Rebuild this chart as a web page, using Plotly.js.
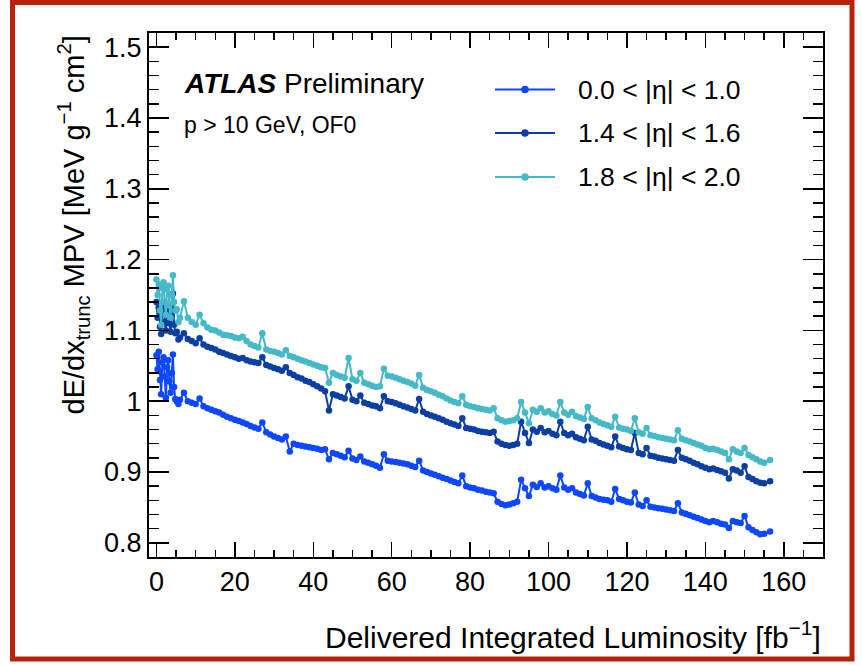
<!DOCTYPE html>
<html>
<head>
<meta charset="utf-8">
<script src="https://cdn.plot.ly/plotly-3.0.1.min.js"></script>
<style>
  html, body { margin: 0; padding: 0; background: #ffffff; }
  #chart { width: 862px; height: 666px; }
</style>
</head>
<body>
<div id="chart"></div>
<script>
// Delivered integrated luminosity [fb^-1] at each measurement
const lumi = [
  0, 0.3, 0.6, 0.9, 1.2, 1.5, 1.8, 2.1, 2.4, 2.7, 3.0, 3.3, 3.6, 3.9, 4.2, 4.5, 4.8, 5.2, 5.6, 6,
  7, 8, 9, 10, 11, 12, 13, 14, 15, 16,
  17, 18, 19, 20, 21, 22, 23, 24, 25, 26,
  27, 28, 29, 30, 31, 32, 33, 34, 35, 36,
  37, 38, 39, 40, 41, 42, 43, 44, 45, 46,
  47, 48, 49, 50, 51, 52, 53, 54, 55, 56,
  57, 58, 59, 60, 61, 62, 63, 64, 65, 66,
  67, 68, 69, 70, 71, 72, 73, 74, 75, 76,
  77, 78, 79, 80, 81, 82, 83, 84, 85, 86,
  87, 88, 89, 90, 91, 92, 93, 94, 95, 96,
  97, 98, 99, 100, 101, 102, 103, 104, 105, 106,
  107, 108, 109, 110, 111, 112, 113, 114, 115, 116,
  117, 118, 119, 120, 121, 122, 123, 124, 125, 126,
  127, 128, 129, 130, 131, 132, 133, 134, 135, 136,
  137, 138, 139, 140, 141, 142, 143, 144, 145, 146,
  147, 148, 149, 150, 151, 152, 153, 154, 155, 156.5
];

// dE/dx_trunc MPV, 0.0 < |eta| < 1.0
const mpvCentral = [
  1.065, 1.045, 1.070, 1.030, 1.010, 1.055, 1.062, 1.035, 1.005, 1.048, 1.058, 1.028, 1.012, 1.040, 1.066, 1.020, 1.003, 1.000, 0.996, 1.002,
  1.012, 1.000, 0.998, 0.996, 1.004, 0.993, 0.990, 0.988, 0.986, 0.984,
  0.981, 0.978, 0.976, 0.974, 0.972, 0.970, 0.968, 0.965, 0.963, 0.961,
  0.970, 0.956, 0.953, 0.950, 0.948, 0.946, 0.950, 0.929, 0.940, 0.938,
  0.937, 0.936, 0.935, 0.934, 0.933, 0.931, 0.932, 0.918, 0.927, 0.925,
  0.923, 0.921, 0.930, 0.919, 0.917, 0.922, 0.915, 0.913, 0.911, 0.909,
  0.906, 0.925, 0.916, 0.915, 0.914, 0.913, 0.912, 0.911, 0.909, 0.907,
  0.916, 0.902, 0.900, 0.898, 0.896, 0.894, 0.892, 0.890, 0.888, 0.886,
  0.884, 0.895, 0.880, 0.878, 0.877, 0.875, 0.874, 0.872, 0.871, 0.870,
  0.858, 0.855, 0.853, 0.854, 0.856, 0.858, 0.889, 0.877, 0.866, 0.882,
  0.879, 0.884, 0.878, 0.880, 0.877, 0.875, 0.895, 0.878, 0.875, 0.877,
  0.871, 0.869, 0.867, 0.884, 0.866, 0.864, 0.862, 0.861, 0.860, 0.858,
  0.876, 0.862, 0.860, 0.858, 0.857, 0.871, 0.854, 0.852, 0.860, 0.851,
  0.850, 0.849, 0.848, 0.847, 0.846, 0.845, 0.856, 0.843, 0.841, 0.839,
  0.837, 0.835, 0.833, 0.831, 0.829, 0.831, 0.829, 0.827, 0.826, 0.821,
  0.831, 0.829, 0.828, 0.838, 0.822, 0.818, 0.815, 0.812, 0.813, 0.816
];

// dE/dx_trunc MPV, 1.4 < |eta| < 1.6
const mpvTransition = [
  1.140, 1.118, 1.132, 1.105, 1.095, 1.128, 1.138, 1.112, 1.100, 1.126, 1.134, 1.110, 1.098, 1.120, 1.152, 1.108, 1.096, 1.098, 1.087, 1.090,
  1.096, 1.088, 1.085, 1.082, 1.089, 1.080, 1.077, 1.075, 1.073, 1.070,
  1.068, 1.066, 1.064, 1.062, 1.060, 1.061, 1.058, 1.056, 1.055, 1.054,
  1.062, 1.051, 1.049, 1.047, 1.045, 1.043, 1.048, 1.040, 1.037, 1.034,
  1.032, 1.029, 1.027, 1.024, 1.021, 1.018, 1.014, 0.987, 1.010, 1.008,
  1.006, 1.004, 1.021, 1.002, 1.000, 1.008, 0.998, 0.996, 0.994, 0.993,
  0.990, 1.007, 1.000, 0.999, 0.997, 0.995, 0.993, 0.991, 0.989, 0.987,
  1.003, 0.985, 0.982, 0.980, 0.978, 0.976, 0.974, 0.971, 0.969, 0.967,
  0.965, 0.976, 0.962, 0.961, 0.960, 0.958, 0.957, 0.956, 0.955, 0.957,
  0.943, 0.940, 0.938, 0.937, 0.938, 0.940, 0.971, 0.955, 0.941, 0.960,
  0.957, 0.962, 0.956, 0.958, 0.954, 0.952, 0.971, 0.955, 0.952, 0.954,
  0.949, 0.947, 0.945, 0.964, 0.946, 0.944, 0.941, 0.939, 0.937, 0.935,
  0.950, 0.936, 0.934, 0.932, 0.931, 0.955, 0.927, 0.925, 0.934, 0.923,
  0.922, 0.920, 0.919, 0.918, 0.917, 0.916, 0.931, 0.920, 0.918, 0.916,
  0.913, 0.911, 0.908, 0.906, 0.904, 0.905, 0.903, 0.901, 0.899, 0.891,
  0.904, 0.902, 0.899, 0.908, 0.893, 0.890, 0.887, 0.885, 0.884, 0.887
];

// dE/dx_trunc MPV, 1.8 < |eta| < 2.0
const mpvForward = [
  1.172, 1.150, 1.165, 1.128, 1.108, 1.160, 1.168, 1.140, 1.122, 1.158, 1.163, 1.135, 1.118, 1.150, 1.178, 1.140, 1.128, 1.130, 1.112, 1.118,
  1.141, 1.118, 1.112, 1.108, 1.122, 1.110, 1.104, 1.101, 1.100, 1.097,
  1.094, 1.093, 1.092, 1.090, 1.089, 1.091, 1.085, 1.080, 1.078, 1.076,
  1.096, 1.073, 1.071, 1.070, 1.068, 1.066, 1.072, 1.064, 1.062, 1.060,
  1.058, 1.056, 1.054, 1.052, 1.050, 1.048, 1.047, 1.026, 1.040, 1.037,
  1.035, 1.033, 1.061, 1.031, 1.029, 1.040, 1.026, 1.024, 1.022, 1.020,
  1.021, 1.046, 1.036, 1.035, 1.033, 1.031, 1.029, 1.027, 1.025, 1.022,
  1.037, 1.019, 1.016, 1.014, 1.012, 1.009, 1.007, 1.004, 1.001, 0.999,
  0.997, 1.007, 0.995, 0.993, 0.992, 0.990, 0.989, 0.988, 0.987, 0.990,
  0.976, 0.973, 0.971, 0.972, 0.973, 0.976, 0.999, 0.984, 0.969, 0.988,
  0.985, 0.990, 0.984, 0.986, 0.982, 0.980, 0.999, 0.984, 0.981, 0.985,
  0.979, 0.977, 0.975, 0.992, 0.976, 0.973, 0.970, 0.968, 0.966, 0.964,
  0.978, 0.963, 0.961, 0.960, 0.958, 0.976, 0.956, 0.954, 0.962, 0.952,
  0.951, 0.949, 0.948, 0.947, 0.946, 0.945, 0.959, 0.947, 0.945, 0.943,
  0.941, 0.939, 0.937, 0.934, 0.932, 0.933, 0.931, 0.929, 0.927, 0.918,
  0.932, 0.929, 0.927, 0.934, 0.924, 0.921, 0.918, 0.915, 0.913, 0.917
];

const seriesNames = ['0.0 < |η| < 1.0', '1.4 < |η| < 1.6', '1.8 < |η| < 2.0'];
const seriesColors = ['#0d47ff', '#0b3fa3', '#45b9c7'];
const seriesValues = [mpvCentral, mpvTransition, mpvForward];

const FONT = 'Liberation Sans, Arial, Helvetica, sans-serif';

const traces = seriesValues.map((vals, i) => ({
  type: 'scatter',
  mode: 'lines+markers',
  name: seriesNames[i],
  x: lumi,
  y: vals,
  line: { color: seriesColors[i], width: 2 },
  marker: { color: seriesColors[i], size: 6.5, symbol: 'circle' },
  showlegend: false
}));

// Plot-area pixel geometry (used to place decorations in paper units)
const L = 149, R = 823, T = 33, B = 557;
const px = v => (v - L) / (R - L);
const py = v => (B - v) / (B - T);

// Hand-drawn legend: a line with a marker, followed by the label
const legendRows = [89.5, 133, 177];
const legendShapes = [];
const legendNotes = [];
legendRows.forEach((row, i) => {
  legendShapes.push({
    type: 'line', xref: 'paper', yref: 'paper',
    x0: px(495), x1: px(555), y0: py(row), y1: py(row),
    line: { color: seriesColors[i], width: 2.2 }
  });
  legendShapes.push({
    type: 'circle', xref: 'paper', yref: 'paper',
    xsizemode: 'pixel', ysizemode: 'pixel',
    xanchor: px(525), yanchor: py(row),
    x0: -3.8, x1: 3.8, y0: -3.8, y1: 3.8,
    fillcolor: seriesColors[i], line: { width: 0 }
  });
  legendNotes.push({
    xref: 'paper', yref: 'paper', x: px(576), y: py(row),
    xanchor: 'left', yanchor: 'middle', showarrow: false,
    text: seriesNames[i],
    font: { family: FONT, size: 26.5, color: '#000' }
  });
});

// Dark red frame around the whole figure
const frame = {
  type: 'rect', xref: 'paper', yref: 'paper',
  x0: px(12.5), x1: px(852), y0: py(659), y1: py(2.5),
  line: { color: '#b8220f', width: 5 }, fillcolor: 'rgba(0,0,0,0)'
};

const axisCommon = {
  showgrid: false, zeroline: false,
  showline: true, linecolor: '#000', linewidth: 2, mirror: 'allticks',
  ticks: 'inside', tickcolor: '#000', tickwidth: 1.5,
  tickfont: { family: FONT, size: 27, color: '#000' }
};

const layout = {
  width: 862, height: 666,
  margin: { l: L, r: 862 - R, t: T, b: 666 - B, pad: 0 },
  paper_bgcolor: '#ffffff', plot_bgcolor: '#ffffff',
  showlegend: false,
  xaxis: Object.assign({}, axisCommon, {
    range: [-1.9, 170], tick0: 0, dtick: 20, ticklen: 15,
    minor: { dtick: 5, tick0: 0, ticklen: 7, ticks: 'inside', tickcolor: '#000', tickwidth: 1.5 }
  }),
  yaxis: Object.assign({}, axisCommon, {
    range: [0.78, 1.52], tick0: 0, dtick: 0.1, ticklen: 20,
    minor: { dtick: 0.02, tick0: 0, ticklen: 10, ticks: 'inside', tickcolor: '#000', tickwidth: 1.5 }
  }),
  shapes: [frame].concat(legendShapes),
  annotations: [
    {
      xref: 'paper', yref: 'paper', x: px(182), y: py(84),
      xanchor: 'left', yanchor: 'middle', showarrow: false,
      text: '<b><i>ATLAS</i></b> Preliminary',
      font: { family: FONT, size: 28, color: '#000' }
    },
    {
      xref: 'paper', yref: 'paper', x: px(182), y: py(125),
      xanchor: 'left', yanchor: 'middle', showarrow: false,
      text: 'p > 10 GeV, OF0',
      font: { family: FONT, size: 23, color: '#000' }
    },
    {
      xref: 'paper', yref: 'paper', x: px(73), y: py(34),
      xanchor: 'center', yanchor: 'top', textangle: -90, showarrow: false,
      text: 'dE/dx<sub>trunc</sub> MPV [MeV g<sup>−1</sup> cm<sup>2</sup>]',
      font: { family: FONT, size: 29, color: '#000' }
    },
    {
      xref: 'paper', yref: 'paper', x: px(823), y: py(635),
      xanchor: 'right', yanchor: 'middle', showarrow: false,
      text: 'Delivered Integrated Luminosity [fb<sup>−1</sup>]',
      font: { family: FONT, size: 30, color: '#000' }
    }
  ].concat(legendNotes)
};

Plotly.newPlot('chart', traces, layout, { staticPlot: true, displayModeBar: false });
</script>
</body>
</html>
